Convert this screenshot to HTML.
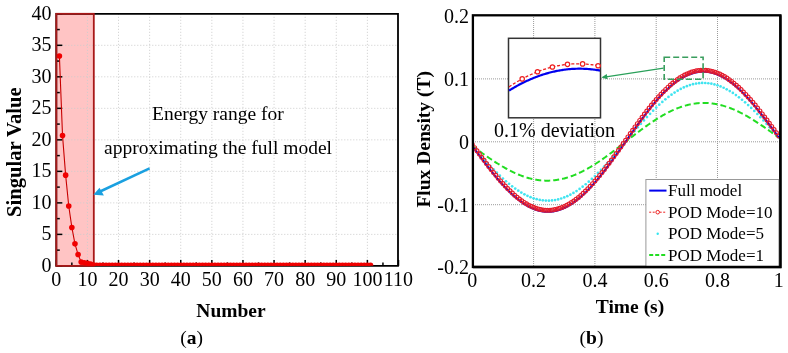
<!DOCTYPE html>
<html><head><meta charset="utf-8"><style>
html,body{margin:0;padding:0;background:#fff;}
svg{display:block;will-change:transform;}
</style></head><body>
<svg width="788" height="353" viewBox="0 0 788 353">
<rect width="788" height="353" fill="#fff"/>
<rect x="56.3" y="13.80" width="37.50" height="252.10" fill="#ffc4c4"/>
<line x1="87.41" y1="13.8" x2="87.41" y2="265.9" stroke="#cccccc" stroke-width="1" stroke-dasharray="1,2"/>
<line x1="118.52" y1="13.8" x2="118.52" y2="265.9" stroke="#cccccc" stroke-width="1" stroke-dasharray="1,2"/>
<line x1="149.63" y1="13.8" x2="149.63" y2="265.9" stroke="#cccccc" stroke-width="1" stroke-dasharray="1,2"/>
<line x1="180.74" y1="13.8" x2="180.74" y2="265.9" stroke="#cccccc" stroke-width="1" stroke-dasharray="1,2"/>
<line x1="211.85" y1="13.8" x2="211.85" y2="265.9" stroke="#cccccc" stroke-width="1" stroke-dasharray="1,2"/>
<line x1="242.95" y1="13.8" x2="242.95" y2="265.9" stroke="#cccccc" stroke-width="1" stroke-dasharray="1,2"/>
<line x1="274.06" y1="13.8" x2="274.06" y2="265.9" stroke="#cccccc" stroke-width="1" stroke-dasharray="1,2"/>
<line x1="305.17" y1="13.8" x2="305.17" y2="265.9" stroke="#cccccc" stroke-width="1" stroke-dasharray="1,2"/>
<line x1="336.28" y1="13.8" x2="336.28" y2="265.9" stroke="#cccccc" stroke-width="1" stroke-dasharray="1,2"/>
<line x1="367.39" y1="13.8" x2="367.39" y2="265.9" stroke="#cccccc" stroke-width="1" stroke-dasharray="1,2"/>
<line x1="56.3" y1="234.39" x2="398.5" y2="234.39" stroke="#cccccc" stroke-width="1" stroke-dasharray="1,2"/>
<line x1="56.3" y1="202.88" x2="398.5" y2="202.88" stroke="#cccccc" stroke-width="1" stroke-dasharray="1,2"/>
<line x1="56.3" y1="171.36" x2="398.5" y2="171.36" stroke="#cccccc" stroke-width="1" stroke-dasharray="1,2"/>
<line x1="56.3" y1="139.85" x2="398.5" y2="139.85" stroke="#cccccc" stroke-width="1" stroke-dasharray="1,2"/>
<line x1="56.3" y1="108.34" x2="398.5" y2="108.34" stroke="#cccccc" stroke-width="1" stroke-dasharray="1,2"/>
<line x1="56.3" y1="76.82" x2="398.5" y2="76.82" stroke="#cccccc" stroke-width="1" stroke-dasharray="1,2"/>
<line x1="56.3" y1="45.31" x2="398.5" y2="45.31" stroke="#cccccc" stroke-width="1" stroke-dasharray="1,2"/>
<path d="M56.3,13.8 H398 V265.9 H56.3 Z" fill="none" stroke="#000" stroke-width="1.8"/>
<line x1="56.30" y1="265.9" x2="56.30" y2="259.9" stroke="#000" stroke-width="1.5"/>
<line x1="71.85" y1="265.9" x2="71.85" y2="262.4" stroke="#000" stroke-width="1.5"/>
<line x1="87.41" y1="265.9" x2="87.41" y2="259.9" stroke="#000" stroke-width="1.5"/>
<line x1="102.96" y1="265.9" x2="102.96" y2="262.4" stroke="#000" stroke-width="1.5"/>
<line x1="118.52" y1="265.9" x2="118.52" y2="259.9" stroke="#000" stroke-width="1.5"/>
<line x1="134.07" y1="265.9" x2="134.07" y2="262.4" stroke="#000" stroke-width="1.5"/>
<line x1="149.63" y1="265.9" x2="149.63" y2="259.9" stroke="#000" stroke-width="1.5"/>
<line x1="165.18" y1="265.9" x2="165.18" y2="262.4" stroke="#000" stroke-width="1.5"/>
<line x1="180.74" y1="265.9" x2="180.74" y2="259.9" stroke="#000" stroke-width="1.5"/>
<line x1="196.29" y1="265.9" x2="196.29" y2="262.4" stroke="#000" stroke-width="1.5"/>
<line x1="211.85" y1="265.9" x2="211.85" y2="259.9" stroke="#000" stroke-width="1.5"/>
<line x1="227.40" y1="265.9" x2="227.40" y2="262.4" stroke="#000" stroke-width="1.5"/>
<line x1="242.95" y1="265.9" x2="242.95" y2="259.9" stroke="#000" stroke-width="1.5"/>
<line x1="258.51" y1="265.9" x2="258.51" y2="262.4" stroke="#000" stroke-width="1.5"/>
<line x1="274.06" y1="265.9" x2="274.06" y2="259.9" stroke="#000" stroke-width="1.5"/>
<line x1="289.62" y1="265.9" x2="289.62" y2="262.4" stroke="#000" stroke-width="1.5"/>
<line x1="305.17" y1="265.9" x2="305.17" y2="259.9" stroke="#000" stroke-width="1.5"/>
<line x1="320.73" y1="265.9" x2="320.73" y2="262.4" stroke="#000" stroke-width="1.5"/>
<line x1="336.28" y1="265.9" x2="336.28" y2="259.9" stroke="#000" stroke-width="1.5"/>
<line x1="351.84" y1="265.9" x2="351.84" y2="262.4" stroke="#000" stroke-width="1.5"/>
<line x1="367.39" y1="265.9" x2="367.39" y2="259.9" stroke="#000" stroke-width="1.5"/>
<line x1="382.95" y1="265.9" x2="382.95" y2="262.4" stroke="#000" stroke-width="1.5"/>
<line x1="398.50" y1="265.9" x2="398.50" y2="259.9" stroke="#000" stroke-width="1.5"/>
<line x1="56.3" y1="265.90" x2="62.3" y2="265.90" stroke="#000" stroke-width="1.5"/>
<line x1="56.3" y1="250.14" x2="59.8" y2="250.14" stroke="#000" stroke-width="1.5"/>
<line x1="56.3" y1="234.39" x2="62.3" y2="234.39" stroke="#000" stroke-width="1.5"/>
<line x1="56.3" y1="218.63" x2="59.8" y2="218.63" stroke="#000" stroke-width="1.5"/>
<line x1="56.3" y1="202.88" x2="62.3" y2="202.88" stroke="#000" stroke-width="1.5"/>
<line x1="56.3" y1="187.12" x2="59.8" y2="187.12" stroke="#000" stroke-width="1.5"/>
<line x1="56.3" y1="171.36" x2="62.3" y2="171.36" stroke="#000" stroke-width="1.5"/>
<line x1="56.3" y1="155.61" x2="59.8" y2="155.61" stroke="#000" stroke-width="1.5"/>
<line x1="56.3" y1="139.85" x2="62.3" y2="139.85" stroke="#000" stroke-width="1.5"/>
<line x1="56.3" y1="124.09" x2="59.8" y2="124.09" stroke="#000" stroke-width="1.5"/>
<line x1="56.3" y1="108.34" x2="62.3" y2="108.34" stroke="#000" stroke-width="1.5"/>
<line x1="56.3" y1="92.58" x2="59.8" y2="92.58" stroke="#000" stroke-width="1.5"/>
<line x1="56.3" y1="76.82" x2="62.3" y2="76.82" stroke="#000" stroke-width="1.5"/>
<line x1="56.3" y1="61.07" x2="59.8" y2="61.07" stroke="#000" stroke-width="1.5"/>
<line x1="56.3" y1="45.31" x2="62.3" y2="45.31" stroke="#000" stroke-width="1.5"/>
<line x1="56.3" y1="29.56" x2="59.8" y2="29.56" stroke="#000" stroke-width="1.5"/>
<line x1="56.3" y1="13.80" x2="62.3" y2="13.80" stroke="#000" stroke-width="1.5"/>
<rect x="56.3" y="13.80" width="37.50" height="252.10" fill="none" stroke="#a81818" stroke-width="1.8"/>
<clipPath id="ca"><rect x="57" y="14" width="341" height="251.8"/></clipPath><g clip-path="url(#ca)">
<path d="M59.41,56.03 L62.52,135.44 L65.63,175.14 L68.74,206.03 L71.85,227.45 L74.97,243.84 L78.08,254.56 L81.19,262.12 L84.30,262.75 L87.41,263.38 L90.52,264.01 L93.63,264.95 L96.74,265.27 L99.85,265.27 L102.96,265.27 L106.07,265.27 L109.19,265.27 L112.30,265.27 L115.41,265.27 L118.52,265.27 L121.63,265.27 L124.74,265.27 L127.85,265.27 L130.96,265.27 L134.07,265.27 L137.18,265.27 L140.29,265.27 L143.41,265.27 L146.52,265.27 L149.63,265.27 L152.74,265.27 L155.85,265.27 L158.96,265.27 L162.07,265.27 L165.18,265.27 L168.29,265.27 L171.40,265.27 L174.51,265.27 L177.63,265.27 L180.74,265.27 L183.85,265.27 L186.96,265.27 L190.07,265.27 L193.18,265.27 L196.29,265.27 L199.40,265.27 L202.51,265.27 L205.62,265.27 L208.73,265.27 L211.85,265.27 L214.96,265.27 L218.07,265.27 L221.18,265.27 L224.29,265.27 L227.40,265.27 L230.51,265.27 L233.62,265.27 L236.73,265.27 L239.84,265.27 L242.95,265.27 L246.07,265.27 L249.18,265.27 L252.29,265.27 L255.40,265.27 L258.51,265.27 L261.62,265.27 L264.73,265.27 L267.84,265.27 L270.95,265.27 L274.06,265.27 L277.17,265.27 L280.29,265.27 L283.40,265.27 L286.51,265.27 L289.62,265.27 L292.73,265.27 L295.84,265.27 L298.95,265.27 L302.06,265.27 L305.17,265.27 L308.28,265.27 L311.39,265.27 L314.51,265.27 L317.62,265.27 L320.73,265.27 L323.84,265.27 L326.95,265.27 L330.06,265.27 L333.17,265.27 L336.28,265.27 L339.39,265.27 L342.50,265.27 L345.61,265.27 L348.73,265.27 L351.84,265.27 L354.95,265.27 L358.06,265.27 L361.17,265.27 L364.28,265.27 L367.39,265.27 L370.50,265.27" fill="none" stroke="#c80000" stroke-width="1.1"/>
<circle cx="59.41" cy="56.03" r="2.8" fill="#f00000"/>
<circle cx="62.52" cy="135.44" r="2.8" fill="#f00000"/>
<circle cx="65.63" cy="175.14" r="2.8" fill="#f00000"/>
<circle cx="68.74" cy="206.03" r="2.8" fill="#f00000"/>
<circle cx="71.85" cy="227.45" r="2.8" fill="#f00000"/>
<circle cx="74.97" cy="243.84" r="2.8" fill="#f00000"/>
<circle cx="78.08" cy="254.56" r="2.8" fill="#f00000"/>
<circle cx="81.19" cy="262.12" r="2.8" fill="#f00000"/>
<circle cx="84.30" cy="262.75" r="2.8" fill="#f00000"/>
<circle cx="87.41" cy="263.38" r="2.8" fill="#f00000"/>
<circle cx="90.52" cy="264.01" r="2.8" fill="#f00000"/>
<circle cx="93.63" cy="264.95" r="2.8" fill="#f00000"/>
<circle cx="96.74" cy="265.27" r="2.8" fill="#f00000"/>
<circle cx="99.85" cy="265.27" r="2.8" fill="#f00000"/>
<circle cx="102.96" cy="265.27" r="2.8" fill="#f00000"/>
<circle cx="106.07" cy="265.27" r="2.8" fill="#f00000"/>
<circle cx="109.19" cy="265.27" r="2.8" fill="#f00000"/>
<circle cx="112.30" cy="265.27" r="2.8" fill="#f00000"/>
<circle cx="115.41" cy="265.27" r="2.8" fill="#f00000"/>
<circle cx="118.52" cy="265.27" r="2.8" fill="#f00000"/>
<circle cx="121.63" cy="265.27" r="2.8" fill="#f00000"/>
<circle cx="124.74" cy="265.27" r="2.8" fill="#f00000"/>
<circle cx="127.85" cy="265.27" r="2.8" fill="#f00000"/>
<circle cx="130.96" cy="265.27" r="2.8" fill="#f00000"/>
<circle cx="134.07" cy="265.27" r="2.8" fill="#f00000"/>
<circle cx="137.18" cy="265.27" r="2.8" fill="#f00000"/>
<circle cx="140.29" cy="265.27" r="2.8" fill="#f00000"/>
<circle cx="143.41" cy="265.27" r="2.8" fill="#f00000"/>
<circle cx="146.52" cy="265.27" r="2.8" fill="#f00000"/>
<circle cx="149.63" cy="265.27" r="2.8" fill="#f00000"/>
<circle cx="152.74" cy="265.27" r="2.8" fill="#f00000"/>
<circle cx="155.85" cy="265.27" r="2.8" fill="#f00000"/>
<circle cx="158.96" cy="265.27" r="2.8" fill="#f00000"/>
<circle cx="162.07" cy="265.27" r="2.8" fill="#f00000"/>
<circle cx="165.18" cy="265.27" r="2.8" fill="#f00000"/>
<circle cx="168.29" cy="265.27" r="2.8" fill="#f00000"/>
<circle cx="171.40" cy="265.27" r="2.8" fill="#f00000"/>
<circle cx="174.51" cy="265.27" r="2.8" fill="#f00000"/>
<circle cx="177.63" cy="265.27" r="2.8" fill="#f00000"/>
<circle cx="180.74" cy="265.27" r="2.8" fill="#f00000"/>
<circle cx="183.85" cy="265.27" r="2.8" fill="#f00000"/>
<circle cx="186.96" cy="265.27" r="2.8" fill="#f00000"/>
<circle cx="190.07" cy="265.27" r="2.8" fill="#f00000"/>
<circle cx="193.18" cy="265.27" r="2.8" fill="#f00000"/>
<circle cx="196.29" cy="265.27" r="2.8" fill="#f00000"/>
<circle cx="199.40" cy="265.27" r="2.8" fill="#f00000"/>
<circle cx="202.51" cy="265.27" r="2.8" fill="#f00000"/>
<circle cx="205.62" cy="265.27" r="2.8" fill="#f00000"/>
<circle cx="208.73" cy="265.27" r="2.8" fill="#f00000"/>
<circle cx="211.85" cy="265.27" r="2.8" fill="#f00000"/>
<circle cx="214.96" cy="265.27" r="2.8" fill="#f00000"/>
<circle cx="218.07" cy="265.27" r="2.8" fill="#f00000"/>
<circle cx="221.18" cy="265.27" r="2.8" fill="#f00000"/>
<circle cx="224.29" cy="265.27" r="2.8" fill="#f00000"/>
<circle cx="227.40" cy="265.27" r="2.8" fill="#f00000"/>
<circle cx="230.51" cy="265.27" r="2.8" fill="#f00000"/>
<circle cx="233.62" cy="265.27" r="2.8" fill="#f00000"/>
<circle cx="236.73" cy="265.27" r="2.8" fill="#f00000"/>
<circle cx="239.84" cy="265.27" r="2.8" fill="#f00000"/>
<circle cx="242.95" cy="265.27" r="2.8" fill="#f00000"/>
<circle cx="246.07" cy="265.27" r="2.8" fill="#f00000"/>
<circle cx="249.18" cy="265.27" r="2.8" fill="#f00000"/>
<circle cx="252.29" cy="265.27" r="2.8" fill="#f00000"/>
<circle cx="255.40" cy="265.27" r="2.8" fill="#f00000"/>
<circle cx="258.51" cy="265.27" r="2.8" fill="#f00000"/>
<circle cx="261.62" cy="265.27" r="2.8" fill="#f00000"/>
<circle cx="264.73" cy="265.27" r="2.8" fill="#f00000"/>
<circle cx="267.84" cy="265.27" r="2.8" fill="#f00000"/>
<circle cx="270.95" cy="265.27" r="2.8" fill="#f00000"/>
<circle cx="274.06" cy="265.27" r="2.8" fill="#f00000"/>
<circle cx="277.17" cy="265.27" r="2.8" fill="#f00000"/>
<circle cx="280.29" cy="265.27" r="2.8" fill="#f00000"/>
<circle cx="283.40" cy="265.27" r="2.8" fill="#f00000"/>
<circle cx="286.51" cy="265.27" r="2.8" fill="#f00000"/>
<circle cx="289.62" cy="265.27" r="2.8" fill="#f00000"/>
<circle cx="292.73" cy="265.27" r="2.8" fill="#f00000"/>
<circle cx="295.84" cy="265.27" r="2.8" fill="#f00000"/>
<circle cx="298.95" cy="265.27" r="2.8" fill="#f00000"/>
<circle cx="302.06" cy="265.27" r="2.8" fill="#f00000"/>
<circle cx="305.17" cy="265.27" r="2.8" fill="#f00000"/>
<circle cx="308.28" cy="265.27" r="2.8" fill="#f00000"/>
<circle cx="311.39" cy="265.27" r="2.8" fill="#f00000"/>
<circle cx="314.51" cy="265.27" r="2.8" fill="#f00000"/>
<circle cx="317.62" cy="265.27" r="2.8" fill="#f00000"/>
<circle cx="320.73" cy="265.27" r="2.8" fill="#f00000"/>
<circle cx="323.84" cy="265.27" r="2.8" fill="#f00000"/>
<circle cx="326.95" cy="265.27" r="2.8" fill="#f00000"/>
<circle cx="330.06" cy="265.27" r="2.8" fill="#f00000"/>
<circle cx="333.17" cy="265.27" r="2.8" fill="#f00000"/>
<circle cx="336.28" cy="265.27" r="2.8" fill="#f00000"/>
<circle cx="339.39" cy="265.27" r="2.8" fill="#f00000"/>
<circle cx="342.50" cy="265.27" r="2.8" fill="#f00000"/>
<circle cx="345.61" cy="265.27" r="2.8" fill="#f00000"/>
<circle cx="348.73" cy="265.27" r="2.8" fill="#f00000"/>
<circle cx="351.84" cy="265.27" r="2.8" fill="#f00000"/>
<circle cx="354.95" cy="265.27" r="2.8" fill="#f00000"/>
<circle cx="358.06" cy="265.27" r="2.8" fill="#f00000"/>
<circle cx="361.17" cy="265.27" r="2.8" fill="#f00000"/>
<circle cx="364.28" cy="265.27" r="2.8" fill="#f00000"/>
<circle cx="367.39" cy="265.27" r="2.8" fill="#f00000"/>
<circle cx="370.50" cy="265.27" r="2.8" fill="#f00000"/>
</g>
<text x="56.30" y="285.7" font-family="Liberation Serif" font-size="20" text-anchor="middle">0</text>
<text x="87.41" y="285.7" font-family="Liberation Serif" font-size="20" text-anchor="middle">10</text>
<text x="118.52" y="285.7" font-family="Liberation Serif" font-size="20" text-anchor="middle">20</text>
<text x="149.63" y="285.7" font-family="Liberation Serif" font-size="20" text-anchor="middle">30</text>
<text x="180.74" y="285.7" font-family="Liberation Serif" font-size="20" text-anchor="middle">40</text>
<text x="211.85" y="285.7" font-family="Liberation Serif" font-size="20" text-anchor="middle">50</text>
<text x="242.95" y="285.7" font-family="Liberation Serif" font-size="20" text-anchor="middle">60</text>
<text x="274.06" y="285.7" font-family="Liberation Serif" font-size="20" text-anchor="middle">70</text>
<text x="305.17" y="285.7" font-family="Liberation Serif" font-size="20" text-anchor="middle">80</text>
<text x="336.28" y="285.7" font-family="Liberation Serif" font-size="20" text-anchor="middle">90</text>
<text x="367.39" y="285.7" font-family="Liberation Serif" font-size="20" text-anchor="middle">100</text>
<text x="398.50" y="285.7" font-family="Liberation Serif" font-size="20" text-anchor="middle">110</text>
<text x="51.5" y="271.70" font-family="Liberation Serif" font-size="20" text-anchor="end">0</text>
<text x="51.5" y="240.19" font-family="Liberation Serif" font-size="20" text-anchor="end">5</text>
<text x="51.5" y="208.68" font-family="Liberation Serif" font-size="20" text-anchor="end">10</text>
<text x="51.5" y="177.16" font-family="Liberation Serif" font-size="20" text-anchor="end">15</text>
<text x="51.5" y="145.65" font-family="Liberation Serif" font-size="20" text-anchor="end">20</text>
<text x="51.5" y="114.14" font-family="Liberation Serif" font-size="20" text-anchor="end">25</text>
<text x="51.5" y="82.62" font-family="Liberation Serif" font-size="20" text-anchor="end">30</text>
<text x="51.5" y="51.11" font-family="Liberation Serif" font-size="20" text-anchor="end">35</text>
<text x="51.5" y="19.60" font-family="Liberation Serif" font-size="20" text-anchor="end">40</text>
<text x="152" y="120" font-family="Liberation Serif" font-size="19.5">Energy range for</text>
<text x="104" y="154" font-family="Liberation Serif" font-size="19.5">approximating the full model</text>
<line x1="149.6" y1="168.3" x2="99" y2="192" stroke="#1aa0e0" stroke-width="2.5"/>
<polygon points="93.4,194.7 99.5,187.8 103.9,195.4" fill="#1aa0e0"/>
<text x="231" y="316.8" font-family="Liberation Serif" font-size="19.5" font-weight="bold" text-anchor="middle">Number</text>
<text transform="translate(21.2,152.2) rotate(-90)" font-family="Liberation Serif" font-size="20.6" font-weight="bold" text-anchor="middle">Singular Value</text>
<text x="180.3" y="344" font-family="Liberation Serif" font-size="19.5">(<tspan font-weight="bold">a</tspan>)</text>
<line x1="533.60" y1="15" x2="533.60" y2="267" stroke="#9a9a9a" stroke-width="1" stroke-dasharray="1,1"/>
<line x1="594.90" y1="15" x2="594.90" y2="267" stroke="#9a9a9a" stroke-width="1" stroke-dasharray="1,1"/>
<line x1="656.20" y1="15" x2="656.20" y2="267" stroke="#9a9a9a" stroke-width="1" stroke-dasharray="1,1"/>
<line x1="717.50" y1="15" x2="717.50" y2="267" stroke="#9a9a9a" stroke-width="1" stroke-dasharray="1,1"/>
<line x1="473" y1="78.90" x2="780" y2="78.90" stroke="#9a9a9a" stroke-width="1" stroke-dasharray="1,1"/>
<line x1="473" y1="141.80" x2="780" y2="141.80" stroke="#9a9a9a" stroke-width="1" stroke-dasharray="1,1"/>
<line x1="473" y1="204.70" x2="780" y2="204.70" stroke="#9a9a9a" stroke-width="1" stroke-dasharray="1,1"/>
<clipPath id="cb"><rect x="473" y="15" width="307.5" height="252"/></clipPath><g clip-path="url(#cb)">
<path d="M472.30,146.01 L473.07,146.57 L473.83,147.13 L474.60,147.68 L475.37,148.24 L476.13,148.79 L476.90,149.34 L477.66,149.90 L478.43,150.45 L479.20,151.00 L479.96,151.55 L480.73,152.10 L481.50,152.64 L482.26,153.19 L483.03,153.73 L483.79,154.27 L484.56,154.81 L485.33,155.35 L486.09,155.88 L486.86,156.42 L487.62,156.94 L488.39,157.47 L489.16,157.99 L489.92,158.51 L490.69,159.03 L491.46,159.54 L492.22,160.06 L492.99,160.56 L493.75,161.06 L494.52,161.56 L495.29,162.06 L496.05,162.55 L496.82,163.04 L497.59,163.52 L498.35,164.00 L499.12,164.47 L499.88,164.94 L500.65,165.40 L501.42,165.86 L502.18,166.31 L502.95,166.76 L503.72,167.21 L504.48,167.64 L505.25,168.08 L506.01,168.50 L506.78,168.92 L507.55,169.34 L508.31,169.75 L509.08,170.15 L509.85,170.55 L510.61,170.94 L511.38,171.32 L512.14,171.70 L512.91,172.07 L513.68,172.43 L514.44,172.79 L515.21,173.14 L515.98,173.48 L516.74,173.82 L517.51,174.15 L518.27,174.47 L519.04,174.78 L519.81,175.09 L520.57,175.39 L521.34,175.68 L522.11,175.97 L522.87,176.24 L523.64,176.51 L524.40,176.77 L525.17,177.02 L525.94,177.27 L526.70,177.51 L527.47,177.73 L528.24,177.96 L529.00,178.17 L529.77,178.37 L530.53,178.57 L531.30,178.75 L532.07,178.93 L532.83,179.10 L533.60,179.26 L534.37,179.42 L535.13,179.56 L535.90,179.70 L536.66,179.82 L537.43,179.94 L538.20,180.05 L538.96,180.15 L539.73,180.24 L540.50,180.33 L541.26,180.40 L542.03,180.46 L542.80,180.52 L543.56,180.57 L544.33,180.60 L545.09,180.63 L545.86,180.65 L546.63,180.66 L547.39,180.66 L548.16,180.66 L548.92,180.64 L549.69,180.62 L550.46,180.58 L551.22,180.54 L551.99,180.48 L552.76,180.42 L553.52,180.35 L554.29,180.27 L555.06,180.18 L555.82,180.08 L556.59,179.98 L557.35,179.86 L558.12,179.74 L558.89,179.60 L559.65,179.46 L560.42,179.31 L561.18,179.15 L561.95,178.98 L562.72,178.80 L563.48,178.62 L564.25,178.42 L565.02,178.22 L565.78,178.01 L566.55,177.78 L567.32,177.56 L568.08,177.32 L568.85,177.07 L569.61,176.82 L570.38,176.55 L571.15,176.28 L571.91,176.00 L572.68,175.72 L573.45,175.42 L574.21,175.12 L574.98,174.81 L575.74,174.49 L576.51,174.16 L577.28,173.83 L578.04,173.49 L578.81,173.14 L579.58,172.78 L580.34,172.42 L581.11,172.05 L581.87,171.67 L582.64,171.28 L583.41,170.89 L584.17,170.49 L584.94,170.09 L585.71,169.67 L586.47,169.25 L587.24,168.83 L588.00,168.40 L588.77,167.96 L589.54,167.51 L590.30,167.06 L591.07,166.60 L591.84,166.14 L592.60,165.67 L593.37,165.20 L594.13,164.72 L594.90,164.23 L595.67,163.74 L596.43,163.25 L597.20,162.75 L597.97,162.24 L598.73,161.73 L599.50,161.22 L600.26,160.70 L601.03,160.17 L601.80,159.64 L602.56,159.11 L603.33,158.57 L604.10,158.03 L604.86,157.49 L605.63,156.94 L606.39,156.38 L607.16,155.83 L607.93,155.27 L608.69,154.71 L609.46,154.14 L610.23,153.57 L610.99,153.00 L611.76,152.43 L612.52,151.85 L613.29,151.27 L614.06,150.69 L614.82,150.11 L615.59,149.52 L616.36,148.94 L617.12,148.35 L617.89,147.76 L618.65,147.17 L619.42,146.57 L620.19,145.98 L620.95,145.38 L621.72,144.79 L622.49,144.19 L623.25,143.59 L624.02,143.00 L624.78,142.40 L625.55,141.80 L626.32,141.20 L627.08,140.60 L627.85,140.01 L628.62,139.41 L629.38,138.81 L630.15,138.22 L630.91,137.62 L631.68,137.03 L632.45,136.43 L633.21,135.84 L633.98,135.25 L634.75,134.66 L635.51,134.08 L636.28,133.49 L637.04,132.91 L637.81,132.33 L638.58,131.75 L639.34,131.17 L640.11,130.60 L640.88,130.03 L641.64,129.46 L642.41,128.89 L643.17,128.33 L643.94,127.77 L644.71,127.22 L645.47,126.66 L646.24,126.11 L647.00,125.57 L647.77,125.03 L648.54,124.49 L649.30,123.96 L650.07,123.43 L650.84,122.90 L651.60,122.38 L652.37,121.87 L653.13,121.36 L653.90,120.85 L654.67,120.35 L655.43,119.86 L656.20,119.37 L656.97,118.88 L657.73,118.40 L658.50,117.93 L659.26,117.46 L660.03,117.00 L660.80,116.54 L661.56,116.09 L662.33,115.64 L663.10,115.20 L663.86,114.77 L664.63,114.35 L665.39,113.93 L666.16,113.51 L666.93,113.11 L667.69,112.71 L668.46,112.32 L669.23,111.93 L669.99,111.55 L670.76,111.18 L671.52,110.82 L672.29,110.46 L673.06,110.11 L673.82,109.77 L674.59,109.44 L675.36,109.11 L676.12,108.79 L676.89,108.48 L677.65,108.18 L678.42,107.88 L679.19,107.60 L679.95,107.32 L680.72,107.05 L681.49,106.78 L682.25,106.53 L683.02,106.28 L683.78,106.04 L684.55,105.82 L685.32,105.59 L686.08,105.38 L686.85,105.18 L687.62,104.98 L688.38,104.80 L689.15,104.62 L689.91,104.45 L690.68,104.29 L691.45,104.14 L692.21,104.00 L692.98,103.86 L693.75,103.74 L694.51,103.62 L695.28,103.52 L696.05,103.42 L696.81,103.33 L697.58,103.25 L698.34,103.18 L699.11,103.12 L699.88,103.06 L700.64,103.02 L701.41,102.98 L702.17,102.96 L702.94,102.94 L703.71,102.94 L704.47,102.94 L705.24,102.95 L706.01,102.97 L706.77,103.00 L707.54,103.03 L708.31,103.08 L709.07,103.14 L709.84,103.20 L710.60,103.27 L711.37,103.36 L712.14,103.45 L712.90,103.55 L713.67,103.66 L714.44,103.78 L715.20,103.90 L715.97,104.04 L716.73,104.18 L717.50,104.34 L718.27,104.50 L719.03,104.67 L719.80,104.85 L720.57,105.03 L721.33,105.23 L722.10,105.43 L722.86,105.64 L723.63,105.87 L724.40,106.09 L725.16,106.33 L725.93,106.58 L726.69,106.83 L727.46,107.09 L728.23,107.36 L728.99,107.63 L729.76,107.92 L730.53,108.21 L731.29,108.51 L732.06,108.82 L732.83,109.13 L733.59,109.45 L734.36,109.78 L735.12,110.12 L735.89,110.46 L736.66,110.81 L737.42,111.17 L738.19,111.53 L738.95,111.90 L739.72,112.28 L740.49,112.66 L741.25,113.05 L742.02,113.45 L742.79,113.85 L743.55,114.26 L744.32,114.68 L745.09,115.10 L745.85,115.52 L746.62,115.96 L747.38,116.39 L748.15,116.84 L748.92,117.29 L749.68,117.74 L750.45,118.20 L751.22,118.66 L751.98,119.13 L752.75,119.60 L753.51,120.08 L754.28,120.56 L755.05,121.05 L755.81,121.54 L756.58,122.04 L757.35,122.54 L758.11,123.04 L758.88,123.54 L759.64,124.06 L760.41,124.57 L761.18,125.09 L761.94,125.61 L762.71,126.13 L763.48,126.66 L764.24,127.18 L765.01,127.72 L765.77,128.25 L766.54,128.79 L767.31,129.33 L768.07,129.87 L768.84,130.41 L769.61,130.96 L770.37,131.50 L771.14,132.05 L771.90,132.60 L772.67,133.15 L773.44,133.70 L774.20,134.26 L774.97,134.81 L775.74,135.36 L776.50,135.92 L777.27,136.47 L778.03,137.03 L778.80,137.59" fill="none" stroke="#22dd22" stroke-width="2" stroke-dasharray="6,3"/>
<circle cx="472.30" cy="146.01" r="1.35" fill="#40e4f0"/>
<circle cx="475.37" cy="149.49" r="1.35" fill="#40e4f0"/>
<circle cx="478.43" cy="152.96" r="1.35" fill="#40e4f0"/>
<circle cx="481.50" cy="156.39" r="1.35" fill="#40e4f0"/>
<circle cx="484.56" cy="159.79" r="1.35" fill="#40e4f0"/>
<circle cx="487.62" cy="163.13" r="1.35" fill="#40e4f0"/>
<circle cx="490.69" cy="166.39" r="1.35" fill="#40e4f0"/>
<circle cx="493.75" cy="169.58" r="1.35" fill="#40e4f0"/>
<circle cx="496.82" cy="172.67" r="1.35" fill="#40e4f0"/>
<circle cx="499.88" cy="175.66" r="1.35" fill="#40e4f0"/>
<circle cx="502.95" cy="178.52" r="1.35" fill="#40e4f0"/>
<circle cx="506.01" cy="181.25" r="1.35" fill="#40e4f0"/>
<circle cx="509.08" cy="183.84" r="1.35" fill="#40e4f0"/>
<circle cx="512.14" cy="186.28" r="1.35" fill="#40e4f0"/>
<circle cx="515.21" cy="188.55" r="1.35" fill="#40e4f0"/>
<circle cx="518.27" cy="190.65" r="1.35" fill="#40e4f0"/>
<circle cx="521.34" cy="192.57" r="1.35" fill="#40e4f0"/>
<circle cx="524.40" cy="194.30" r="1.35" fill="#40e4f0"/>
<circle cx="527.47" cy="195.83" r="1.35" fill="#40e4f0"/>
<circle cx="530.53" cy="197.16" r="1.35" fill="#40e4f0"/>
<circle cx="533.60" cy="198.29" r="1.35" fill="#40e4f0"/>
<circle cx="536.66" cy="199.20" r="1.35" fill="#40e4f0"/>
<circle cx="539.73" cy="199.89" r="1.35" fill="#40e4f0"/>
<circle cx="542.80" cy="200.36" r="1.35" fill="#40e4f0"/>
<circle cx="545.86" cy="200.62" r="1.35" fill="#40e4f0"/>
<circle cx="548.92" cy="200.64" r="1.35" fill="#40e4f0"/>
<circle cx="551.99" cy="200.45" r="1.35" fill="#40e4f0"/>
<circle cx="555.06" cy="200.03" r="1.35" fill="#40e4f0"/>
<circle cx="558.12" cy="199.39" r="1.35" fill="#40e4f0"/>
<circle cx="561.18" cy="198.52" r="1.35" fill="#40e4f0"/>
<circle cx="564.25" cy="197.44" r="1.35" fill="#40e4f0"/>
<circle cx="567.32" cy="196.15" r="1.35" fill="#40e4f0"/>
<circle cx="570.38" cy="194.65" r="1.35" fill="#40e4f0"/>
<circle cx="573.45" cy="192.95" r="1.35" fill="#40e4f0"/>
<circle cx="576.51" cy="191.05" r="1.35" fill="#40e4f0"/>
<circle cx="579.58" cy="188.96" r="1.35" fill="#40e4f0"/>
<circle cx="582.64" cy="186.70" r="1.35" fill="#40e4f0"/>
<circle cx="585.71" cy="184.25" r="1.35" fill="#40e4f0"/>
<circle cx="588.77" cy="181.65" r="1.35" fill="#40e4f0"/>
<circle cx="591.84" cy="178.89" r="1.35" fill="#40e4f0"/>
<circle cx="594.90" cy="175.99" r="1.35" fill="#40e4f0"/>
<circle cx="597.97" cy="172.96" r="1.35" fill="#40e4f0"/>
<circle cx="601.03" cy="169.81" r="1.35" fill="#40e4f0"/>
<circle cx="604.10" cy="166.55" r="1.35" fill="#40e4f0"/>
<circle cx="607.16" cy="163.19" r="1.35" fill="#40e4f0"/>
<circle cx="610.23" cy="159.75" r="1.35" fill="#40e4f0"/>
<circle cx="613.29" cy="156.25" r="1.35" fill="#40e4f0"/>
<circle cx="616.36" cy="152.68" r="1.35" fill="#40e4f0"/>
<circle cx="619.42" cy="149.08" r="1.35" fill="#40e4f0"/>
<circle cx="622.49" cy="145.45" r="1.35" fill="#40e4f0"/>
<circle cx="625.55" cy="141.80" r="1.35" fill="#40e4f0"/>
<circle cx="628.62" cy="138.15" r="1.35" fill="#40e4f0"/>
<circle cx="631.68" cy="134.52" r="1.35" fill="#40e4f0"/>
<circle cx="634.75" cy="130.92" r="1.35" fill="#40e4f0"/>
<circle cx="637.81" cy="127.35" r="1.35" fill="#40e4f0"/>
<circle cx="640.88" cy="123.85" r="1.35" fill="#40e4f0"/>
<circle cx="643.94" cy="120.41" r="1.35" fill="#40e4f0"/>
<circle cx="647.00" cy="117.05" r="1.35" fill="#40e4f0"/>
<circle cx="650.07" cy="113.79" r="1.35" fill="#40e4f0"/>
<circle cx="653.13" cy="110.64" r="1.35" fill="#40e4f0"/>
<circle cx="656.20" cy="107.61" r="1.35" fill="#40e4f0"/>
<circle cx="659.26" cy="104.71" r="1.35" fill="#40e4f0"/>
<circle cx="662.33" cy="101.95" r="1.35" fill="#40e4f0"/>
<circle cx="665.39" cy="99.35" r="1.35" fill="#40e4f0"/>
<circle cx="668.46" cy="96.90" r="1.35" fill="#40e4f0"/>
<circle cx="671.52" cy="94.64" r="1.35" fill="#40e4f0"/>
<circle cx="674.59" cy="92.55" r="1.35" fill="#40e4f0"/>
<circle cx="677.65" cy="90.65" r="1.35" fill="#40e4f0"/>
<circle cx="680.72" cy="88.95" r="1.35" fill="#40e4f0"/>
<circle cx="683.78" cy="87.45" r="1.35" fill="#40e4f0"/>
<circle cx="686.85" cy="86.16" r="1.35" fill="#40e4f0"/>
<circle cx="689.91" cy="85.08" r="1.35" fill="#40e4f0"/>
<circle cx="692.98" cy="84.21" r="1.35" fill="#40e4f0"/>
<circle cx="696.05" cy="83.57" r="1.35" fill="#40e4f0"/>
<circle cx="699.11" cy="83.15" r="1.35" fill="#40e4f0"/>
<circle cx="702.17" cy="82.96" r="1.35" fill="#40e4f0"/>
<circle cx="705.24" cy="82.98" r="1.35" fill="#40e4f0"/>
<circle cx="708.31" cy="83.24" r="1.35" fill="#40e4f0"/>
<circle cx="711.37" cy="83.71" r="1.35" fill="#40e4f0"/>
<circle cx="714.44" cy="84.40" r="1.35" fill="#40e4f0"/>
<circle cx="717.50" cy="85.31" r="1.35" fill="#40e4f0"/>
<circle cx="720.57" cy="86.44" r="1.35" fill="#40e4f0"/>
<circle cx="723.63" cy="87.77" r="1.35" fill="#40e4f0"/>
<circle cx="726.69" cy="89.30" r="1.35" fill="#40e4f0"/>
<circle cx="729.76" cy="91.03" r="1.35" fill="#40e4f0"/>
<circle cx="732.83" cy="92.95" r="1.35" fill="#40e4f0"/>
<circle cx="735.89" cy="95.05" r="1.35" fill="#40e4f0"/>
<circle cx="738.95" cy="97.32" r="1.35" fill="#40e4f0"/>
<circle cx="742.02" cy="99.76" r="1.35" fill="#40e4f0"/>
<circle cx="745.09" cy="102.35" r="1.35" fill="#40e4f0"/>
<circle cx="748.15" cy="105.08" r="1.35" fill="#40e4f0"/>
<circle cx="751.22" cy="107.94" r="1.35" fill="#40e4f0"/>
<circle cx="754.28" cy="110.93" r="1.35" fill="#40e4f0"/>
<circle cx="757.35" cy="114.02" r="1.35" fill="#40e4f0"/>
<circle cx="760.41" cy="117.21" r="1.35" fill="#40e4f0"/>
<circle cx="763.48" cy="120.47" r="1.35" fill="#40e4f0"/>
<circle cx="766.54" cy="123.81" r="1.35" fill="#40e4f0"/>
<circle cx="769.61" cy="127.21" r="1.35" fill="#40e4f0"/>
<circle cx="772.67" cy="130.64" r="1.35" fill="#40e4f0"/>
<circle cx="775.74" cy="134.11" r="1.35" fill="#40e4f0"/>
<circle cx="778.80" cy="137.59" r="1.35" fill="#40e4f0"/>
<path d="M472.30,146.01 L473.07,147.06 L473.83,148.11 L474.60,149.15 L475.37,150.20 L476.13,151.24 L476.90,152.28 L477.66,153.32 L478.43,154.36 L479.20,155.40 L479.96,156.43 L480.73,157.46 L481.50,158.49 L482.26,159.52 L483.03,160.54 L483.79,161.56 L484.56,162.57 L485.33,163.58 L486.09,164.59 L486.86,165.59 L487.62,166.59 L488.39,167.58 L489.16,168.56 L489.92,169.54 L490.69,170.52 L491.46,171.48 L492.22,172.45 L492.99,173.40 L493.75,174.35 L494.52,175.29 L495.29,176.22 L496.05,177.15 L496.82,178.07 L497.59,178.98 L498.35,179.88 L499.12,180.77 L499.88,181.66 L500.65,182.53 L501.42,183.40 L502.18,184.25 L502.95,185.10 L503.72,185.94 L504.48,186.77 L505.25,187.58 L506.01,188.39 L506.78,189.18 L507.55,189.97 L508.31,190.74 L509.08,191.51 L509.85,192.26 L510.61,193.00 L511.38,193.72 L512.14,194.44 L512.91,195.14 L513.68,195.83 L514.44,196.51 L515.21,197.18 L515.98,197.83 L516.74,198.47 L517.51,199.10 L518.27,199.71 L519.04,200.31 L519.81,200.89 L520.57,201.46 L521.34,202.02 L522.11,202.57 L522.87,203.10 L523.64,203.61 L524.40,204.11 L525.17,204.60 L525.94,205.07 L526.70,205.52 L527.47,205.96 L528.24,206.39 L529.00,206.80 L529.77,207.19 L530.53,207.57 L531.30,207.94 L532.07,208.29 L532.83,208.62 L533.60,208.94 L534.37,209.24 L535.13,209.52 L535.90,209.79 L536.66,210.04 L537.43,210.28 L538.20,210.50 L538.96,210.70 L539.73,210.89 L540.50,211.06 L541.26,211.21 L542.03,211.35 L542.80,211.47 L543.56,211.58 L544.33,211.66 L545.09,211.74 L545.86,211.79 L546.63,211.83 L547.39,211.85 L548.16,211.85 L548.92,211.84 L549.69,211.81 L550.46,211.76 L551.22,211.70 L551.99,211.62 L552.76,211.52 L553.52,211.41 L554.29,211.28 L555.06,211.13 L555.82,210.97 L556.59,210.79 L557.35,210.60 L558.12,210.38 L558.89,210.15 L559.65,209.91 L560.42,209.65 L561.18,209.37 L561.95,209.07 L562.72,208.76 L563.48,208.44 L564.25,208.09 L565.02,207.73 L565.78,207.36 L566.55,206.97 L567.32,206.56 L568.08,206.14 L568.85,205.70 L569.61,205.25 L570.38,204.78 L571.15,204.30 L571.91,203.80 L572.68,203.29 L573.45,202.76 L574.21,202.22 L574.98,201.66 L575.74,201.09 L576.51,200.51 L577.28,199.91 L578.04,199.29 L578.81,198.66 L579.58,198.02 L580.34,197.37 L581.11,196.70 L581.87,196.02 L582.64,195.32 L583.41,194.61 L584.17,193.89 L584.94,193.16 L585.71,192.42 L586.47,191.66 L587.24,190.89 L588.00,190.11 L588.77,189.31 L589.54,188.51 L590.30,187.69 L591.07,186.87 L591.84,186.03 L592.60,185.18 L593.37,184.32 L594.13,183.45 L594.90,182.57 L595.67,181.68 L596.43,180.78 L597.20,179.88 L597.97,178.96 L598.73,178.03 L599.50,177.10 L600.26,176.15 L601.03,175.20 L601.80,174.24 L602.56,173.27 L603.33,172.30 L604.10,171.31 L604.86,170.32 L605.63,169.33 L606.39,168.32 L607.16,167.31 L607.93,166.30 L608.69,165.27 L609.46,164.25 L610.23,163.21 L610.99,162.18 L611.76,161.13 L612.52,160.08 L613.29,159.03 L614.06,157.97 L614.82,156.91 L615.59,155.85 L616.36,154.78 L617.12,153.71 L617.89,152.64 L618.65,151.56 L619.42,150.48 L620.19,149.40 L620.95,148.32 L621.72,147.24 L622.49,146.15 L623.25,145.06 L624.02,143.98 L624.78,142.89 L625.55,141.80 L626.32,140.71 L627.08,139.62 L627.85,138.54 L628.62,137.45 L629.38,136.36 L630.15,135.28 L630.91,134.20 L631.68,133.12 L632.45,132.04 L633.21,130.96 L633.98,129.89 L634.75,128.82 L635.51,127.75 L636.28,126.69 L637.04,125.63 L637.81,124.57 L638.58,123.52 L639.34,122.47 L640.11,121.42 L640.88,120.39 L641.64,119.35 L642.41,118.33 L643.17,117.30 L643.94,116.29 L644.71,115.28 L645.47,114.27 L646.24,113.28 L647.00,112.29 L647.77,111.30 L648.54,110.33 L649.30,109.36 L650.07,108.40 L650.84,107.45 L651.60,106.50 L652.37,105.57 L653.13,104.64 L653.90,103.72 L654.67,102.82 L655.43,101.92 L656.20,101.03 L656.97,100.15 L657.73,99.28 L658.50,98.42 L659.26,97.57 L660.03,96.73 L660.80,95.91 L661.56,95.09 L662.33,94.29 L663.10,93.49 L663.86,92.71 L664.63,91.94 L665.39,91.18 L666.16,90.44 L666.93,89.71 L667.69,88.99 L668.46,88.28 L669.23,87.58 L669.99,86.90 L670.76,86.23 L671.52,85.58 L672.29,84.94 L673.06,84.31 L673.82,83.69 L674.59,83.09 L675.36,82.51 L676.12,81.94 L676.89,81.38 L677.65,80.84 L678.42,80.31 L679.19,79.80 L679.95,79.30 L680.72,78.82 L681.49,78.35 L682.25,77.90 L683.02,77.46 L683.78,77.04 L684.55,76.63 L685.32,76.24 L686.08,75.87 L686.85,75.51 L687.62,75.16 L688.38,74.84 L689.15,74.53 L689.91,74.23 L690.68,73.95 L691.45,73.69 L692.21,73.45 L692.98,73.22 L693.75,73.00 L694.51,72.81 L695.28,72.63 L696.05,72.47 L696.81,72.32 L697.58,72.19 L698.34,72.08 L699.11,71.98 L699.88,71.90 L700.64,71.84 L701.41,71.79 L702.17,71.76 L702.94,71.75 L703.71,71.75 L704.47,71.77 L705.24,71.81 L706.01,71.86 L706.77,71.94 L707.54,72.02 L708.31,72.13 L709.07,72.25 L709.84,72.39 L710.60,72.54 L711.37,72.71 L712.14,72.90 L712.90,73.10 L713.67,73.32 L714.44,73.56 L715.20,73.81 L715.97,74.08 L716.73,74.36 L717.50,74.66 L718.27,74.98 L719.03,75.31 L719.80,75.66 L720.57,76.03 L721.33,76.41 L722.10,76.80 L722.86,77.21 L723.63,77.64 L724.40,78.08 L725.16,78.53 L725.93,79.00 L726.69,79.49 L727.46,79.99 L728.23,80.50 L728.99,81.03 L729.76,81.58 L730.53,82.14 L731.29,82.71 L732.06,83.29 L732.83,83.89 L733.59,84.50 L734.36,85.13 L735.12,85.77 L735.89,86.42 L736.66,87.09 L737.42,87.77 L738.19,88.46 L738.95,89.16 L739.72,89.88 L740.49,90.60 L741.25,91.34 L742.02,92.09 L742.79,92.86 L743.55,93.63 L744.32,94.42 L745.09,95.21 L745.85,96.02 L746.62,96.83 L747.38,97.66 L748.15,98.50 L748.92,99.35 L749.68,100.20 L750.45,101.07 L751.22,101.94 L751.98,102.83 L752.75,103.72 L753.51,104.62 L754.28,105.53 L755.05,106.45 L755.81,107.38 L756.58,108.31 L757.35,109.25 L758.11,110.20 L758.88,111.15 L759.64,112.12 L760.41,113.08 L761.18,114.06 L761.94,115.04 L762.71,116.02 L763.48,117.01 L764.24,118.01 L765.01,119.01 L765.77,120.02 L766.54,121.03 L767.31,122.04 L768.07,123.06 L768.84,124.08 L769.61,125.11 L770.37,126.14 L771.14,127.17 L771.90,128.20 L772.67,129.24 L773.44,130.28 L774.20,131.32 L774.97,132.36 L775.74,133.40 L776.50,134.45 L777.27,135.49 L778.03,136.54 L778.80,137.59" fill="none" stroke="#0000e0" stroke-width="2"/>
<path d="M472.30,144.44 L473.07,145.49 L473.83,146.53 L474.60,147.58 L475.37,148.62 L476.13,149.67 L476.90,150.71 L477.66,151.75 L478.43,152.79 L479.20,153.82 L479.96,154.86 L480.73,155.89 L481.50,156.92 L482.26,157.94 L483.03,158.97 L483.79,159.98 L484.56,161.00 L485.33,162.01 L486.09,163.01 L486.86,164.02 L487.62,165.01 L488.39,166.00 L489.16,166.99 L489.92,167.97 L490.69,168.94 L491.46,169.91 L492.22,170.87 L492.99,171.83 L493.75,172.78 L494.52,173.72 L495.29,174.65 L496.05,175.58 L496.82,176.49 L497.59,177.40 L498.35,178.31 L499.12,179.20 L499.88,180.08 L500.65,180.96 L501.42,181.82 L502.18,182.68 L502.95,183.53 L503.72,184.37 L504.48,185.19 L505.25,186.01 L506.01,186.82 L506.78,187.61 L507.55,188.40 L508.31,189.17 L509.08,189.93 L509.85,190.68 L510.61,191.42 L511.38,192.15 L512.14,192.87 L512.91,193.57 L513.68,194.26 L514.44,194.94 L515.21,195.60 L515.98,196.26 L516.74,196.90 L517.51,197.52 L518.27,198.14 L519.04,198.73 L519.81,199.32 L520.57,199.89 L521.34,200.45 L522.11,200.99 L522.87,201.52 L523.64,202.04 L524.40,202.54 L525.17,203.02 L525.94,203.49 L526.70,203.95 L527.47,204.39 L528.24,204.82 L529.00,205.23 L529.77,205.62 L530.53,206.00 L531.30,206.37 L532.07,206.71 L532.83,207.05 L533.60,207.36 L534.37,207.66 L535.13,207.95 L535.90,208.22 L536.66,208.47 L537.43,208.71 L538.20,208.93 L538.96,209.13 L539.73,209.32 L540.50,209.49 L541.26,209.64 L542.03,209.78 L542.80,209.90 L543.56,210.00 L544.33,210.09 L545.09,210.16 L545.86,210.22 L546.63,210.25 L547.39,210.28 L548.16,210.28 L548.92,210.27 L549.69,210.24 L550.46,210.19 L551.22,210.13 L551.99,210.05 L552.76,209.95 L553.52,209.84 L554.29,209.71 L555.06,209.56 L555.82,209.40 L556.59,209.22 L557.35,209.02 L558.12,208.81 L558.89,208.58 L559.65,208.34 L560.42,208.07 L561.18,207.80 L561.95,207.50 L562.72,207.19 L563.48,206.86 L564.25,206.52 L565.02,206.16 L565.78,205.79 L566.55,205.40 L567.32,204.99 L568.08,204.57 L568.85,204.13 L569.61,203.68 L570.38,203.21 L571.15,202.73 L571.91,202.23 L572.68,201.72 L573.45,201.19 L574.21,200.65 L574.98,200.09 L575.74,199.52 L576.51,198.93 L577.28,198.33 L578.04,197.72 L578.81,197.09 L579.58,196.45 L580.34,195.79 L581.11,195.13 L581.87,194.44 L582.64,193.75 L583.41,193.04 L584.17,192.32 L584.94,191.59 L585.71,190.84 L586.47,190.09 L587.24,189.32 L588.00,188.53 L588.77,187.74 L589.54,186.94 L590.30,186.12 L591.07,185.29 L591.84,184.46 L592.60,183.61 L593.37,182.75 L594.13,181.88 L594.90,181.00 L595.67,180.11 L596.43,179.21 L597.20,178.30 L597.97,177.39 L598.73,176.46 L599.50,175.52 L600.26,174.58 L601.03,173.63 L601.80,172.67 L602.56,171.70 L603.33,170.72 L604.10,169.74 L604.86,168.75 L605.63,167.75 L606.39,166.75 L607.16,165.74 L607.93,164.72 L608.69,163.70 L609.46,162.67 L610.23,161.64 L610.99,160.60 L611.76,159.56 L612.52,158.51 L613.29,157.46 L614.06,156.40 L614.82,155.34 L615.59,154.28 L616.36,153.21 L617.12,152.14 L617.89,151.07 L618.65,149.99 L619.42,148.91 L620.19,147.83 L620.95,146.75 L621.72,145.66 L622.49,144.58 L623.25,143.49 L624.02,142.40 L624.78,141.32 L625.55,140.23 L626.32,139.14 L627.08,138.05 L627.85,136.96 L628.62,135.88 L629.38,134.79 L630.15,133.71 L630.91,132.63 L631.68,131.54 L632.45,130.47 L633.21,129.39 L633.98,128.32 L634.75,127.25 L635.51,126.18 L636.28,125.11 L637.04,124.05 L637.81,123.00 L638.58,121.94 L639.34,120.90 L640.11,119.85 L640.88,118.81 L641.64,117.78 L642.41,116.75 L643.17,115.73 L643.94,114.71 L644.71,113.70 L645.47,112.70 L646.24,111.70 L647.00,110.71 L647.77,109.73 L648.54,108.75 L649.30,107.79 L650.07,106.83 L650.84,105.87 L651.60,104.93 L652.37,104.00 L653.13,103.07 L653.90,102.15 L654.67,101.24 L655.43,100.34 L656.20,99.46 L656.97,98.58 L657.73,97.71 L658.50,96.85 L659.26,96.00 L660.03,95.16 L660.80,94.33 L661.56,93.52 L662.33,92.71 L663.10,91.92 L663.86,91.14 L664.63,90.37 L665.39,89.61 L666.16,88.87 L666.93,88.13 L667.69,87.41 L668.46,86.70 L669.23,86.01 L669.99,85.33 L670.76,84.66 L671.52,84.01 L672.29,83.36 L673.06,82.74 L673.82,82.12 L674.59,81.52 L675.36,80.94 L676.12,80.36 L676.89,79.81 L677.65,79.27 L678.42,78.74 L679.19,78.22 L679.95,77.73 L680.72,77.24 L681.49,76.78 L682.25,76.32 L683.02,75.89 L683.78,75.46 L684.55,75.06 L685.32,74.67 L686.08,74.29 L686.85,73.93 L687.62,73.59 L688.38,73.26 L689.15,72.95 L689.91,72.66 L690.68,72.38 L691.45,72.12 L692.21,71.87 L692.98,71.64 L693.75,71.43 L694.51,71.24 L695.28,71.06 L696.05,70.89 L696.81,70.75 L697.58,70.62 L698.34,70.50 L699.11,70.41 L699.88,70.33 L700.64,70.26 L701.41,70.22 L702.17,70.19 L702.94,70.18 L703.71,70.18 L704.47,70.20 L705.24,70.24 L706.01,70.29 L706.77,70.36 L707.54,70.45 L708.31,70.56 L709.07,70.68 L709.84,70.81 L710.60,70.97 L711.37,71.14 L712.14,71.33 L712.90,71.53 L713.67,71.75 L714.44,71.99 L715.20,72.24 L715.97,72.51 L716.73,72.79 L717.50,73.09 L718.27,73.41 L719.03,73.74 L719.80,74.09 L720.57,74.45 L721.33,74.83 L722.10,75.23 L722.86,75.64 L723.63,76.06 L724.40,76.50 L725.16,76.96 L725.93,77.43 L726.69,77.92 L727.46,78.42 L728.23,78.93 L728.99,79.46 L729.76,80.00 L730.53,80.56 L731.29,81.13 L732.06,81.72 L732.83,82.32 L733.59,82.93 L734.36,83.56 L735.12,84.20 L735.89,84.85 L736.66,85.52 L737.42,86.19 L738.19,86.89 L738.95,87.59 L739.72,88.30 L740.49,89.03 L741.25,89.77 L742.02,90.52 L742.79,91.28 L743.55,92.06 L744.32,92.84 L745.09,93.64 L745.85,94.45 L746.62,95.26 L747.38,96.09 L748.15,96.93 L748.92,97.77 L749.68,98.63 L750.45,99.50 L751.22,100.37 L751.98,101.26 L752.75,102.15 L753.51,103.05 L754.28,103.96 L755.05,104.88 L755.81,105.80 L756.58,106.74 L757.35,107.68 L758.11,108.63 L758.88,109.58 L759.64,110.54 L760.41,111.51 L761.18,112.49 L761.94,113.47 L762.71,114.45 L763.48,115.44 L764.24,116.44 L765.01,117.44 L765.77,118.45 L766.54,119.46 L767.31,120.47 L768.07,121.49 L768.84,122.51 L769.61,123.54 L770.37,124.57 L771.14,125.60 L771.90,126.63 L772.67,127.67 L773.44,128.71 L774.20,129.75 L774.97,130.79 L775.74,131.83 L776.50,132.88 L777.27,133.92 L778.03,134.97 L778.80,136.01" fill="none" stroke="#e82028" stroke-width="1" stroke-dasharray="2,1.5"/>
<circle cx="472.30" cy="144.44" r="1.9" fill="none" stroke="#e41c2c" stroke-width="1.2"/>
<circle cx="474.66" cy="147.66" r="1.9" fill="none" stroke="#e41c2c" stroke-width="1.2"/>
<circle cx="477.02" cy="150.87" r="1.9" fill="none" stroke="#e41c2c" stroke-width="1.2"/>
<circle cx="479.37" cy="154.06" r="1.9" fill="none" stroke="#e41c2c" stroke-width="1.2"/>
<circle cx="481.73" cy="157.23" r="1.9" fill="none" stroke="#e41c2c" stroke-width="1.2"/>
<circle cx="484.09" cy="160.37" r="1.9" fill="none" stroke="#e41c2c" stroke-width="1.2"/>
<circle cx="486.45" cy="163.48" r="1.9" fill="none" stroke="#e41c2c" stroke-width="1.2"/>
<circle cx="488.80" cy="166.54" r="1.9" fill="none" stroke="#e41c2c" stroke-width="1.2"/>
<circle cx="491.16" cy="169.54" r="1.9" fill="none" stroke="#e41c2c" stroke-width="1.2"/>
<circle cx="493.52" cy="172.48" r="1.9" fill="none" stroke="#e41c2c" stroke-width="1.2"/>
<circle cx="495.88" cy="175.36" r="1.9" fill="none" stroke="#e41c2c" stroke-width="1.2"/>
<circle cx="498.23" cy="178.17" r="1.9" fill="none" stroke="#e41c2c" stroke-width="1.2"/>
<circle cx="500.59" cy="180.89" r="1.9" fill="none" stroke="#e41c2c" stroke-width="1.2"/>
<circle cx="502.95" cy="183.53" r="1.9" fill="none" stroke="#e41c2c" stroke-width="1.2"/>
<circle cx="505.31" cy="186.07" r="1.9" fill="none" stroke="#e41c2c" stroke-width="1.2"/>
<circle cx="507.67" cy="188.52" r="1.9" fill="none" stroke="#e41c2c" stroke-width="1.2"/>
<circle cx="510.02" cy="190.86" r="1.9" fill="none" stroke="#e41c2c" stroke-width="1.2"/>
<circle cx="512.38" cy="193.08" r="1.9" fill="none" stroke="#e41c2c" stroke-width="1.2"/>
<circle cx="514.74" cy="195.20" r="1.9" fill="none" stroke="#e41c2c" stroke-width="1.2"/>
<circle cx="517.10" cy="197.19" r="1.9" fill="none" stroke="#e41c2c" stroke-width="1.2"/>
<circle cx="519.45" cy="199.05" r="1.9" fill="none" stroke="#e41c2c" stroke-width="1.2"/>
<circle cx="521.81" cy="200.79" r="1.9" fill="none" stroke="#e41c2c" stroke-width="1.2"/>
<circle cx="524.17" cy="202.39" r="1.9" fill="none" stroke="#e41c2c" stroke-width="1.2"/>
<circle cx="526.53" cy="203.85" r="1.9" fill="none" stroke="#e41c2c" stroke-width="1.2"/>
<circle cx="528.88" cy="205.17" r="1.9" fill="none" stroke="#e41c2c" stroke-width="1.2"/>
<circle cx="531.24" cy="206.34" r="1.9" fill="none" stroke="#e41c2c" stroke-width="1.2"/>
<circle cx="533.60" cy="207.36" r="1.9" fill="none" stroke="#e41c2c" stroke-width="1.2"/>
<circle cx="535.96" cy="208.24" r="1.9" fill="none" stroke="#e41c2c" stroke-width="1.2"/>
<circle cx="538.32" cy="208.96" r="1.9" fill="none" stroke="#e41c2c" stroke-width="1.2"/>
<circle cx="540.67" cy="209.52" r="1.9" fill="none" stroke="#e41c2c" stroke-width="1.2"/>
<circle cx="543.03" cy="209.93" r="1.9" fill="none" stroke="#e41c2c" stroke-width="1.2"/>
<circle cx="545.39" cy="210.19" r="1.9" fill="none" stroke="#e41c2c" stroke-width="1.2"/>
<circle cx="547.75" cy="210.28" r="1.9" fill="none" stroke="#e41c2c" stroke-width="1.2"/>
<circle cx="550.10" cy="210.21" r="1.9" fill="none" stroke="#e41c2c" stroke-width="1.2"/>
<circle cx="552.46" cy="209.99" r="1.9" fill="none" stroke="#e41c2c" stroke-width="1.2"/>
<circle cx="554.82" cy="209.61" r="1.9" fill="none" stroke="#e41c2c" stroke-width="1.2"/>
<circle cx="557.18" cy="209.07" r="1.9" fill="none" stroke="#e41c2c" stroke-width="1.2"/>
<circle cx="559.53" cy="208.37" r="1.9" fill="none" stroke="#e41c2c" stroke-width="1.2"/>
<circle cx="561.89" cy="207.52" r="1.9" fill="none" stroke="#e41c2c" stroke-width="1.2"/>
<circle cx="564.25" cy="206.52" r="1.9" fill="none" stroke="#e41c2c" stroke-width="1.2"/>
<circle cx="566.61" cy="205.37" r="1.9" fill="none" stroke="#e41c2c" stroke-width="1.2"/>
<circle cx="568.97" cy="204.06" r="1.9" fill="none" stroke="#e41c2c" stroke-width="1.2"/>
<circle cx="571.32" cy="202.61" r="1.9" fill="none" stroke="#e41c2c" stroke-width="1.2"/>
<circle cx="573.68" cy="201.02" r="1.9" fill="none" stroke="#e41c2c" stroke-width="1.2"/>
<circle cx="576.04" cy="199.30" r="1.9" fill="none" stroke="#e41c2c" stroke-width="1.2"/>
<circle cx="578.40" cy="197.43" r="1.9" fill="none" stroke="#e41c2c" stroke-width="1.2"/>
<circle cx="580.75" cy="195.44" r="1.9" fill="none" stroke="#e41c2c" stroke-width="1.2"/>
<circle cx="583.11" cy="193.32" r="1.9" fill="none" stroke="#e41c2c" stroke-width="1.2"/>
<circle cx="585.47" cy="191.07" r="1.9" fill="none" stroke="#e41c2c" stroke-width="1.2"/>
<circle cx="587.83" cy="188.72" r="1.9" fill="none" stroke="#e41c2c" stroke-width="1.2"/>
<circle cx="590.18" cy="186.25" r="1.9" fill="none" stroke="#e41c2c" stroke-width="1.2"/>
<circle cx="592.54" cy="183.67" r="1.9" fill="none" stroke="#e41c2c" stroke-width="1.2"/>
<circle cx="594.90" cy="181.00" r="1.9" fill="none" stroke="#e41c2c" stroke-width="1.2"/>
<circle cx="597.26" cy="178.23" r="1.9" fill="none" stroke="#e41c2c" stroke-width="1.2"/>
<circle cx="599.62" cy="175.38" r="1.9" fill="none" stroke="#e41c2c" stroke-width="1.2"/>
<circle cx="601.97" cy="172.45" r="1.9" fill="none" stroke="#e41c2c" stroke-width="1.2"/>
<circle cx="604.33" cy="169.44" r="1.9" fill="none" stroke="#e41c2c" stroke-width="1.2"/>
<circle cx="606.69" cy="166.36" r="1.9" fill="none" stroke="#e41c2c" stroke-width="1.2"/>
<circle cx="609.05" cy="163.23" r="1.9" fill="none" stroke="#e41c2c" stroke-width="1.2"/>
<circle cx="611.40" cy="160.04" r="1.9" fill="none" stroke="#e41c2c" stroke-width="1.2"/>
<circle cx="613.76" cy="156.81" r="1.9" fill="none" stroke="#e41c2c" stroke-width="1.2"/>
<circle cx="616.12" cy="153.54" r="1.9" fill="none" stroke="#e41c2c" stroke-width="1.2"/>
<circle cx="618.48" cy="150.24" r="1.9" fill="none" stroke="#e41c2c" stroke-width="1.2"/>
<circle cx="620.83" cy="146.91" r="1.9" fill="none" stroke="#e41c2c" stroke-width="1.2"/>
<circle cx="623.19" cy="143.57" r="1.9" fill="none" stroke="#e41c2c" stroke-width="1.2"/>
<circle cx="625.55" cy="140.23" r="1.9" fill="none" stroke="#e41c2c" stroke-width="1.2"/>
<circle cx="627.91" cy="136.88" r="1.9" fill="none" stroke="#e41c2c" stroke-width="1.2"/>
<circle cx="630.27" cy="133.54" r="1.9" fill="none" stroke="#e41c2c" stroke-width="1.2"/>
<circle cx="632.62" cy="130.22" r="1.9" fill="none" stroke="#e41c2c" stroke-width="1.2"/>
<circle cx="634.98" cy="126.92" r="1.9" fill="none" stroke="#e41c2c" stroke-width="1.2"/>
<circle cx="637.34" cy="123.65" r="1.9" fill="none" stroke="#e41c2c" stroke-width="1.2"/>
<circle cx="639.70" cy="120.41" r="1.9" fill="none" stroke="#e41c2c" stroke-width="1.2"/>
<circle cx="642.05" cy="117.23" r="1.9" fill="none" stroke="#e41c2c" stroke-width="1.2"/>
<circle cx="644.41" cy="114.09" r="1.9" fill="none" stroke="#e41c2c" stroke-width="1.2"/>
<circle cx="646.77" cy="111.02" r="1.9" fill="none" stroke="#e41c2c" stroke-width="1.2"/>
<circle cx="649.13" cy="108.01" r="1.9" fill="none" stroke="#e41c2c" stroke-width="1.2"/>
<circle cx="651.48" cy="105.08" r="1.9" fill="none" stroke="#e41c2c" stroke-width="1.2"/>
<circle cx="653.84" cy="102.22" r="1.9" fill="none" stroke="#e41c2c" stroke-width="1.2"/>
<circle cx="656.20" cy="99.46" r="1.9" fill="none" stroke="#e41c2c" stroke-width="1.2"/>
<circle cx="658.56" cy="96.78" r="1.9" fill="none" stroke="#e41c2c" stroke-width="1.2"/>
<circle cx="660.92" cy="94.21" r="1.9" fill="none" stroke="#e41c2c" stroke-width="1.2"/>
<circle cx="663.27" cy="91.74" r="1.9" fill="none" stroke="#e41c2c" stroke-width="1.2"/>
<circle cx="665.63" cy="89.38" r="1.9" fill="none" stroke="#e41c2c" stroke-width="1.2"/>
<circle cx="667.99" cy="87.14" r="1.9" fill="none" stroke="#e41c2c" stroke-width="1.2"/>
<circle cx="670.35" cy="85.02" r="1.9" fill="none" stroke="#e41c2c" stroke-width="1.2"/>
<circle cx="672.70" cy="83.02" r="1.9" fill="none" stroke="#e41c2c" stroke-width="1.2"/>
<circle cx="675.06" cy="81.16" r="1.9" fill="none" stroke="#e41c2c" stroke-width="1.2"/>
<circle cx="677.42" cy="79.43" r="1.9" fill="none" stroke="#e41c2c" stroke-width="1.2"/>
<circle cx="679.78" cy="77.84" r="1.9" fill="none" stroke="#e41c2c" stroke-width="1.2"/>
<circle cx="682.13" cy="76.39" r="1.9" fill="none" stroke="#e41c2c" stroke-width="1.2"/>
<circle cx="684.49" cy="75.09" r="1.9" fill="none" stroke="#e41c2c" stroke-width="1.2"/>
<circle cx="686.85" cy="73.93" r="1.9" fill="none" stroke="#e41c2c" stroke-width="1.2"/>
<circle cx="689.21" cy="72.93" r="1.9" fill="none" stroke="#e41c2c" stroke-width="1.2"/>
<circle cx="691.57" cy="72.08" r="1.9" fill="none" stroke="#e41c2c" stroke-width="1.2"/>
<circle cx="693.92" cy="71.38" r="1.9" fill="none" stroke="#e41c2c" stroke-width="1.2"/>
<circle cx="696.28" cy="70.85" r="1.9" fill="none" stroke="#e41c2c" stroke-width="1.2"/>
<circle cx="698.64" cy="70.46" r="1.9" fill="none" stroke="#e41c2c" stroke-width="1.2"/>
<circle cx="701.00" cy="70.24" r="1.9" fill="none" stroke="#e41c2c" stroke-width="1.2"/>
<circle cx="703.35" cy="70.18" r="1.9" fill="none" stroke="#e41c2c" stroke-width="1.2"/>
<circle cx="705.71" cy="70.27" r="1.9" fill="none" stroke="#e41c2c" stroke-width="1.2"/>
<circle cx="708.07" cy="70.52" r="1.9" fill="none" stroke="#e41c2c" stroke-width="1.2"/>
<circle cx="710.43" cy="70.93" r="1.9" fill="none" stroke="#e41c2c" stroke-width="1.2"/>
<circle cx="712.78" cy="71.50" r="1.9" fill="none" stroke="#e41c2c" stroke-width="1.2"/>
<circle cx="715.14" cy="72.22" r="1.9" fill="none" stroke="#e41c2c" stroke-width="1.2"/>
<circle cx="717.50" cy="73.09" r="1.9" fill="none" stroke="#e41c2c" stroke-width="1.2"/>
<circle cx="719.86" cy="74.12" r="1.9" fill="none" stroke="#e41c2c" stroke-width="1.2"/>
<circle cx="722.22" cy="75.29" r="1.9" fill="none" stroke="#e41c2c" stroke-width="1.2"/>
<circle cx="724.57" cy="76.61" r="1.9" fill="none" stroke="#e41c2c" stroke-width="1.2"/>
<circle cx="726.93" cy="78.07" r="1.9" fill="none" stroke="#e41c2c" stroke-width="1.2"/>
<circle cx="729.29" cy="79.67" r="1.9" fill="none" stroke="#e41c2c" stroke-width="1.2"/>
<circle cx="731.65" cy="81.40" r="1.9" fill="none" stroke="#e41c2c" stroke-width="1.2"/>
<circle cx="734.00" cy="83.27" r="1.9" fill="none" stroke="#e41c2c" stroke-width="1.2"/>
<circle cx="736.36" cy="85.26" r="1.9" fill="none" stroke="#e41c2c" stroke-width="1.2"/>
<circle cx="738.72" cy="87.37" r="1.9" fill="none" stroke="#e41c2c" stroke-width="1.2"/>
<circle cx="741.08" cy="89.60" r="1.9" fill="none" stroke="#e41c2c" stroke-width="1.2"/>
<circle cx="743.43" cy="91.94" r="1.9" fill="none" stroke="#e41c2c" stroke-width="1.2"/>
<circle cx="745.79" cy="94.38" r="1.9" fill="none" stroke="#e41c2c" stroke-width="1.2"/>
<circle cx="748.15" cy="96.93" r="1.9" fill="none" stroke="#e41c2c" stroke-width="1.2"/>
<circle cx="750.51" cy="99.56" r="1.9" fill="none" stroke="#e41c2c" stroke-width="1.2"/>
<circle cx="752.87" cy="102.29" r="1.9" fill="none" stroke="#e41c2c" stroke-width="1.2"/>
<circle cx="755.22" cy="105.09" r="1.9" fill="none" stroke="#e41c2c" stroke-width="1.2"/>
<circle cx="757.58" cy="107.97" r="1.9" fill="none" stroke="#e41c2c" stroke-width="1.2"/>
<circle cx="759.94" cy="110.92" r="1.9" fill="none" stroke="#e41c2c" stroke-width="1.2"/>
<circle cx="762.30" cy="113.92" r="1.9" fill="none" stroke="#e41c2c" stroke-width="1.2"/>
<circle cx="764.65" cy="116.98" r="1.9" fill="none" stroke="#e41c2c" stroke-width="1.2"/>
<circle cx="767.01" cy="120.08" r="1.9" fill="none" stroke="#e41c2c" stroke-width="1.2"/>
<circle cx="769.37" cy="123.22" r="1.9" fill="none" stroke="#e41c2c" stroke-width="1.2"/>
<circle cx="771.73" cy="126.39" r="1.9" fill="none" stroke="#e41c2c" stroke-width="1.2"/>
<circle cx="774.08" cy="129.59" r="1.9" fill="none" stroke="#e41c2c" stroke-width="1.2"/>
<circle cx="776.44" cy="132.80" r="1.9" fill="none" stroke="#e41c2c" stroke-width="1.2"/>
<circle cx="778.80" cy="136.01" r="1.9" fill="none" stroke="#e41c2c" stroke-width="1.2"/>
</g>
<rect x="472.9" y="15.3" width="307.5" height="251.7" fill="none" stroke="#000" stroke-width="2.3"/>
<text x="472.30" y="286.5" font-family="Liberation Serif" font-size="20" text-anchor="middle">0</text>
<text x="533.60" y="286.5" font-family="Liberation Serif" font-size="20" text-anchor="middle">0.2</text>
<text x="594.90" y="286.5" font-family="Liberation Serif" font-size="20" text-anchor="middle">0.4</text>
<text x="656.20" y="286.5" font-family="Liberation Serif" font-size="20" text-anchor="middle">0.6</text>
<text x="717.50" y="286.5" font-family="Liberation Serif" font-size="20" text-anchor="middle">0.8</text>
<text x="778.80" y="286.5" font-family="Liberation Serif" font-size="20" text-anchor="middle">1</text>
<text x="469" y="22.80" font-family="Liberation Serif" font-size="20" text-anchor="end">0.2</text>
<text x="469" y="85.70" font-family="Liberation Serif" font-size="20" text-anchor="end">0.1</text>
<text x="469" y="148.60" font-family="Liberation Serif" font-size="20" text-anchor="end">0</text>
<text x="469" y="211.50" font-family="Liberation Serif" font-size="20" text-anchor="end">-0.1</text>
<text x="469" y="274.40" font-family="Liberation Serif" font-size="20" text-anchor="end">-0.2</text>
<rect x="508.5" y="38.3" width="92" height="79.5" fill="#fff" stroke="#333" stroke-width="1.5"/>
<path d="M509.0,90.60 L510.0,89.98 L511.0,89.38 L512.0,88.78 L513.0,88.19 L514.0,87.60 L515.0,87.03 L516.0,86.47 L517.0,85.91 L518.0,85.37 L519.0,84.83 L520.0,84.30 L521.0,83.78 L522.0,83.27 L523.0,82.77 L524.0,82.27 L525.0,81.79 L526.0,81.31 L527.0,80.84 L528.0,80.39 L529.0,79.94 L530.0,79.50 L531.0,79.06 L532.0,78.64 L533.0,78.23 L534.0,77.82 L535.0,77.43 L536.0,77.04 L537.0,76.66 L538.0,76.29 L539.0,75.93 L540.0,75.57 L541.0,75.23 L542.0,74.90 L543.0,74.57 L544.0,74.25 L545.0,73.94 L546.0,73.64 L547.0,73.35 L548.0,73.07 L549.0,72.80 L550.0,72.53 L551.0,72.28 L552.0,72.03 L553.0,71.79 L554.0,71.57 L555.0,71.34 L556.0,71.13 L557.0,70.93 L558.0,70.74 L559.0,70.55 L560.0,70.38 L561.0,70.21 L562.0,70.05 L563.0,69.90 L564.0,69.76 L565.0,69.63 L566.0,69.50 L567.0,69.39 L568.0,69.28 L569.0,69.19 L570.0,69.10 L571.0,69.02 L572.0,68.95 L573.0,68.89 L574.0,68.83 L575.0,68.79 L576.0,68.75 L577.0,68.73 L578.0,68.71 L579.0,68.70 L580.0,68.70 L581.0,68.71 L582.0,68.73 L583.0,68.75 L584.0,68.79 L585.0,68.83 L586.0,68.89 L587.0,68.95 L588.0,69.02 L589.0,69.10 L590.0,69.19 L591.0,69.28 L592.0,69.39 L593.0,69.50 L594.0,69.63 L595.0,69.76 L596.0,69.90 L597.0,70.05 L598.0,70.21 L599.0,70.38 L600.0,70.55" fill="none" stroke="#0000ee" stroke-width="2.2"/>
<path d="M509.0,86.90 L510.0,86.24 L511.0,85.58 L512.0,84.93 L513.0,84.30 L514.0,83.67 L515.0,83.06 L516.0,82.45 L517.0,81.85 L518.0,81.27 L519.0,80.69 L520.0,80.12 L521.0,79.56 L522.0,79.02 L523.0,78.48 L524.0,77.95 L525.0,77.43 L526.0,76.92 L527.0,76.42 L528.0,75.93 L529.0,75.45 L530.0,74.98 L531.0,74.52 L532.0,74.07 L533.0,73.63 L534.0,73.19 L535.0,72.77 L536.0,72.36 L537.0,71.96 L538.0,71.56 L539.0,71.18 L540.0,70.81 L541.0,70.44 L542.0,70.09 L543.0,69.74 L544.0,69.41 L545.0,69.08 L546.0,68.77 L547.0,68.46 L548.0,68.17 L549.0,67.88 L550.0,67.60 L551.0,67.34 L552.0,67.08 L553.0,66.83 L554.0,66.59 L555.0,66.37 L556.0,66.15 L557.0,65.94 L558.0,65.74 L559.0,65.55 L560.0,65.37 L561.0,65.20 L562.0,65.04 L563.0,64.89 L564.0,64.75 L565.0,64.62 L566.0,64.50 L567.0,64.39 L568.0,64.29 L569.0,64.19 L570.0,64.11 L571.0,64.04 L572.0,63.97 L573.0,63.92 L574.0,63.88 L575.0,63.84 L576.0,63.82 L577.0,63.80 L578.0,63.80 L579.0,63.80 L580.0,63.82 L581.0,63.84 L582.0,63.88 L583.0,63.92 L584.0,63.97 L585.0,64.04 L586.0,64.11 L587.0,64.19 L588.0,64.29 L589.0,64.39 L590.0,64.50 L591.0,64.62 L592.0,64.75 L593.0,64.89 L594.0,65.04 L595.0,65.20 L596.0,65.37 L597.0,65.55 L598.0,65.74 L599.0,65.94 L600.0,66.15" fill="none" stroke="#ee2020" stroke-width="1.3" stroke-dasharray="3,1.8"/>
<circle cx="522.2" cy="78.91" r="2.2" fill="#fff" stroke="#ee2020" stroke-width="1.2"/>
<circle cx="537.5" cy="71.76" r="2.2" fill="#fff" stroke="#ee2020" stroke-width="1.2"/>
<circle cx="552.4" cy="66.98" r="2.2" fill="#fff" stroke="#ee2020" stroke-width="1.2"/>
<circle cx="567.5" cy="64.33" r="2.2" fill="#fff" stroke="#ee2020" stroke-width="1.2"/>
<circle cx="582.6" cy="63.90" r="2.2" fill="#fff" stroke="#ee2020" stroke-width="1.2"/>
<circle cx="598.1" cy="65.76" r="2.2" fill="#fff" stroke="#ee2020" stroke-width="1.2"/>
<text x="494" y="136.6" font-family="Liberation Serif" font-size="20">0.1% deviation</text>
<rect x="664.2" y="57.2" width="38.9" height="22" fill="none" stroke="#3a9e5e" stroke-width="1.6" stroke-dasharray="6,3"/>
<line x1="663.5" y1="68.2" x2="606" y2="76.8" stroke="#2aa05a" stroke-width="1.2"/>
<polygon points="601.3,77.6 607.6,79.3 606.8,74.1" fill="#2aa05a"/>
<rect x="645.9" y="179.5" width="133" height="88" fill="#fff" stroke="#999" stroke-width="1"/>
<line x1="649.2" y1="190.6" x2="666.5" y2="190.6" stroke="#0000ee" stroke-width="2"/>
<line x1="649.2" y1="212.2" x2="666.5" y2="212.2" stroke="#ee2020" stroke-width="1" stroke-dasharray="2,1.5"/>
<circle cx="657.7" cy="212.2" r="1.8" fill="#fff" stroke="#ee2020" stroke-width="1"/>
<circle cx="657.7" cy="233.7" r="1.2" fill="#33e6f0"/>
<line x1="649.2" y1="255" x2="666.5" y2="255" stroke="#22dd22" stroke-width="2" stroke-dasharray="4,2"/>
<text x="668" y="196.4" font-family="Liberation Serif" font-size="17">Full model</text>
<text x="668" y="217.8" font-family="Liberation Serif" font-size="17">POD Mode=10</text>
<text x="668" y="239.3" font-family="Liberation Serif" font-size="17">POD Mode=5</text>
<text x="668" y="260.7" font-family="Liberation Serif" font-size="17">POD Mode=1</text>
<path d="M472.9,267 H780.4 V15.3" fill="none" stroke="#000" stroke-width="2.3"/>
<text x="630" y="313.2" font-family="Liberation Serif" font-size="19.5" font-weight="bold" text-anchor="middle">Time (s)</text>
<text transform="translate(429.5,139.3) rotate(-90)" font-family="Liberation Serif" font-size="19.5" font-weight="bold" text-anchor="middle">Flux Density (T)</text>
<text x="579.6" y="344" font-family="Liberation Serif" font-size="19.5">(<tspan font-weight="bold">b</tspan>)</text>
</svg>
</body></html>
